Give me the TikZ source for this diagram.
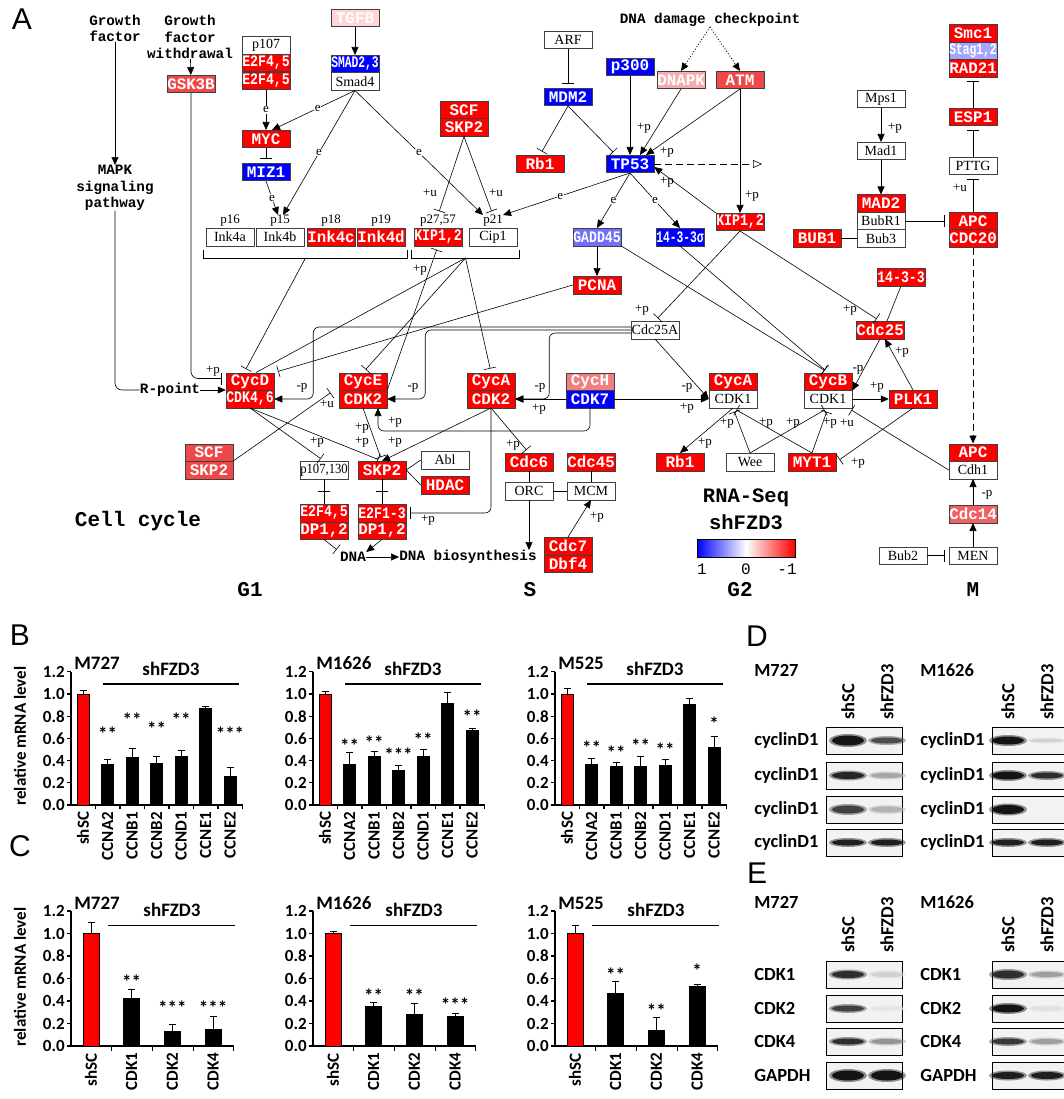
\documentclass[tikz,border=0pt]{standalone}
\usepackage{fontspec}
\usepackage{graphicx}
\usetikzlibrary{arrows.meta,calc}

\setmainfont{Liberation Serif}
\newfontfamily\keggfont{Liberation Mono}
\newfontfamily\plotfont{Carlito}
\newfontfamily\panelfont{Liberation Sans}

\definecolor{kred}{RGB}{255,0,0}
\definecolor{kblue}{RGB}{0,0,255}
\definecolor{kltred}{RGB}{238,72,72}
\definecolor{kpale}{RGB}{255,214,214}
\definecolor{kpink}{RGB}{246,172,172}
\definecolor{kcych}{RGB}{240,128,128}
\definecolor{kcdc}{RGB}{240,98,98}
\definecolor{kltblue}{RGB}{112,112,250}
\definecolor{klav}{RGB}{165,165,255}

% squeeze long gene names into the box
\newsavebox\kbox
\newcommand\kfit[1]{\sbox\kbox{#1}%
  \ifdim\wd\kbox>47.5pt\resizebox{47.5pt}{\height}{\usebox\kbox}\else\usebox\kbox\fi}

\tikzset{
  kegg/.style={draw=black!75, line width=0.5pt, minimum width=48pt,
    minimum height=17.5pt, inner sep=0pt, text=white,
    font=\keggfont\bfseries\fontsize{16}{16}\selectfont},
  kwhite/.style={kegg, fill=white, text=black, font=\fontsize{14}{14}\selectfont},
  ktext/.style={font=\keggfont\bfseries\fontsize{14.3}{16.5}\selectfont,
    align=center, inner sep=0pt},
  lab/.style={font=\fontsize{13}{13}\selectfont, inner sep=0pt},
  elab/.style={lab, fill=white, inner sep=0.6pt},
  act/.style={-{Triangle[length=8pt,width=7pt]}},
  inh/.style={-{Bar[width=12pt]}, shorten >=4pt},
  tick/.style={draw, minimum width=12pt, minimum height=0pt, inner sep=0pt},
  panel/.style={font=\panelfont\fontsize{30}{30}\selectfont, inner sep=0pt},
  plot/.style={font=\plotfont\bfseries\fontsize{17}{17}\selectfont, inner sep=0pt},
  plotbig/.style={font=\plotfont\bfseries\fontsize{19}{19}\selectfont, inner sep=0pt},
  stars/.style={font=\plotfont\bfseries\fontsize{19}{19}\selectfont, inner sep=0pt},
  blot/.style={font=\plotfont\bfseries\fontsize{18.5}{18.5}\selectfont, inner sep=0pt}
}

\begin{document}
\begin{tikzpicture}[x=1pt, y=-1pt, line width=0.6pt]
  \useasboundingbox (0,0) rectangle (1064,1099);
  \fill[white] (0,0) rectangle (1064,1099);

  % ---------------- A: cell cycle map ----------------
  \node[panel] (panA) at (22,19) {A};
  \node[ktext] (gf) at (115,28.5) {Growth\\factor};
  \node[ktext] (gfw) at (190,37) {Growth\\factor\\withdrawal};
  \node[ktext] (mapk) at (115,188) {MAPK\\signaling\\pathway};
  \node[ktext] (rpoint) at (170,390) {R-point};
  \node[ktext] (dmg) at (710,20) {DNA damage checkpoint};
  \node[ktext] (dna) at (353,557) {DNA};
  \node[ktext] (dnab) at (468,557) {DNA biosynthesis};
  \node[ktext, font=\keggfont\bfseries\fontsize{21}{21}\selectfont] (cellcyc) at (138,521) {Cell cycle};
  \foreach \n/\x/\tx in {phG1/250/G1, phS/530/S, phG2/740/G2, phM/973/M}
    \node[ktext, font=\keggfont\bfseries\fontsize{21}{21}\selectfont] (\n) at (\x,590) {\tx};

  % coloured genes
  \foreach \n/\x/\y/\fc/\tx in {
    gsk/191/84/kltred/GSK3B,
    e2fa/266/63/kred/{E2F4,5}, e2fb/266/81/kred/{E2F4,5},
    myc/266/139/kred/MYC, miz/266/172/kblue/MIZ1,
    tgfb/355/18/kpale/TGFB, smad/355/64/kblue/{SMAD2,3},
    ink4c/331/237/kred/Ink4c, ink4d/381/237/kred/Ink4d,
    kip/438/237/kred/{KIP1,2},
    scfa/464/110/kred/SCF, skpa/464/127.5/kred/SKP2,
    mdm/568/97/kblue/MDM2, rba/540/164/kred/Rb1,
    p300/630/67/kblue/p300, tp53/630/164/kblue/TP53,
    dnapk/681/80/kpink/DNAPK, atm/740/80/kltred/ATM,
    kipb/740/222/kred/{KIP1,2},
    gadd/597/237/kltblue/GADD45, sigma/680/237/kblue/14-3-3σ,
    pcna/597/285/kred/PCNA,
    mad2/881/203.5/kred/MAD2, bub1/817/238.5/kred/BUB1,
    smc/973/33.5/kred/Smc1, stag/973/51/klav/{Stag1,2}, rad/973/68.5/kred/RAD21,
    esp/973/117/kred/ESP1, apc/973/221/kred/APC, cdc20/973/238.5/kred/CDC20,
    f1433/901/277/kred/14-3-3, cdc25/880/330/kred/Cdc25,
    cycd/250/381.5/kred/CycD, cdk46/250/399/kred/{CDK4,6},
    cyce/363/381.5/kred/CycE, cdk2e/363/399/kred/CDK2,
    cyca/491/381.5/kred/CycA, cdk2a/491/399/kred/CDK2,
    cych/590/381.5/kcych/CycH, cdk7/590/399/kblue/CDK7,
    cycag/733/381.5/kred/CycA, cycb/828/381.5/kred/CycB,
    plk/913/399/kred/PLK1,
    scfb/209/452.5/kltred/SCF, skpb/209/470/kltred/SKP2,
    skpc/382/470/kred/SKP2, hdac/445/485/kred/HDAC,
    e2fc/324/513/kred/{E2F4,5}, dpa/324/530.5/kred/{DP1,2},
    e2fd/382/513/kred/E2F1-3, dpb/382/530.5/kred/{DP1,2},
    cdc6/529/462/kred/Cdc6, cdc45/591/462/kred/Cdc45,
    cdc7/568/546/kred/Cdc7, dbf4/568/563.5/kred/Dbf4,
    rbb/680/462/kred/Rb1, myt/812/462/kred/MYT1,
    apcb/973/452.5/kred/APC, cdc14/973/514/kcdc/Cdc14}
    \node[kegg, fill=\fc] (\n) at (\x,\y) {\kfit{\tx}};

  % white genes
  \foreach \n/\x/\y/\tx in {
    p107/266/45.5/p107, smad4/355/81.5/Smad4,
    ink4a/230/237/Ink4a, ink4b/280/237/Ink4b, cip/493/237/Cip1,
    arf/568/40/ARF, mps/881/99/Mps1, mad1/881/151/Mad1,
    bubr/881/221/BubR1, bub3/881/238.5/Bub3, pttg/973/166/PTTG,
    cdc25a/655/330/Cdc25A, cdk1a/733/399/CDK1, cdk1b/828/399/CDK1,
    p107b/324/470/{p107,130}, abl/445/460/Abl, orc/529/491/ORC,
    mcm/591/491/MCM, wee/750/462/Wee, cdh1/973/470/Cdh1,
    men/973/555.5/MEN, bub2/903/555.5/Bub2}
    \node[kwhite] (\n) at (\x,\y) {\kfit{\tx}};

  \foreach \n/\x/\tx in {lp16/230/p16, lp15/280/p15, lp18/331/p18, lp19/381/p19,
    lp2757/438/{p27,57}, lp21/493/p21}
    \node[lab] (\n) at (\x,221) {\tx};

  % brackets under the CKIs
  \draw ([shift={(-2,4)}]ink4a.south west) -- ++(0,8) -| ([shift={(2,4)}]ink4d.south east);
  \draw ([shift={(-2,4)}]kip.south west) -- ++(0,8) -| ([shift={(2,4)}]cip.south east);
  \coordinate (brA) at ($(ink4a.south west)!.5!(ink4d.south east)+(0,12)$);
  \coordinate (brB) at ($(kip.south west)!.5!(cip.south east)+(0,12)$);
  \coordinate (tpout) at (762,164);

  % growth factor
  \draw[act] (gf) -- (mapk);
  \draw[act] (gfw) -- (gsk);
  \draw[rounded corners=7pt] (mapk.south) |- (rpoint.west);
  \draw[act] (rpoint.east) -- (rpoint.east -| cdk46.north west);
  \draw[inh, rounded corners=7pt] (gsk.south) |- ([yshift=3pt]cycd.west);

  % TGFB / MYC
  \draw[act] (tgfb) -- (smad);
  \draw[act] (e2fb) -- node[elab] (e1) {e} (myc);
  \draw[act] (smad4.south) -- node[elab, pos=.45] (e2) {e} ($(myc.north)+(6,0)$);
  \draw[inh] (myc) -- (miz);
  \draw[act] (miz.south) -- node[elab] (e3) {e} ($(lp15.north)+(-2,0)$);
  \draw[act] (smad4.south) -- node[elab] (e4) {e} ($(lp15.north)+(3,0)$);
  \draw[act] (smad4.south) -- node[elab, pos=.5] (e5) {e} (lp21.north west);
  \draw[act] (tp53.south) -- node[elab, pos=.55] (e6) {e} (lp21.north east);
  \draw[inh] (skpa.south) -- (lp2757.north);
  \draw[inh] (skpa.south) -- (lp21.north);

  % p53 branch
  \draw[inh] (arf) -- (mdm);
  \draw[inh] (mdm.south) -- (rba.north);
  \draw[inh] (mdm.south) -- ($(tp53.north)+(-14,0)$);
  \draw[act] (p300) -- (tp53);
  \draw[act] (dnapk.south) -- ($(tp53.north)+(10,0)$);
  \draw[act] (atm.south) -- ($(tp53.north)+(16,0)$);
  \draw[act] (atm) -- (kipb);
  \draw[act] (kipb.north west) -- ([yshift=-3pt]tp53.east);
  \draw[dash pattern=on 7pt off 4pt, -{Triangle[open,length=9pt,width=8pt]}] (tp53.east) -- (tpout);
  \draw[dotted, line width=0.9pt, act] (dmg.south) -- (dnapk.north);
  \draw[dotted, line width=0.9pt, act] (dmg.south) -- (atm.north);
  \draw[act] (tp53.south) -- node[elab] (e7) {e} (gadd.north);
  \draw[act] (tp53.south) -- node[elab] (e8) {e} (sigma.north);
  \draw[act] (gadd) -- (pcna);

  % spindle checkpoint
  \draw[act] (mps) -- (mad1);
  \draw[act] (mad1) -- (mad2);
  \draw (bub1) -- (bub3);
  \draw[inh] (bubr.east) -- (bubr.east -| apc.west);
  \draw[inh] (esp) -- (rad);
  \draw[inh] (pttg) -- (esp);
  \draw[inh] (apc) -- (pttg);
  \draw[dash pattern=on 7pt off 4pt, act] (cdc20) -- (apcb);

  % CKIs onto the cyclins
  \draw[inh] (brA) -- ($(cycd.north)+(-6,0)$);
  \draw (brB) -- ($(cycd.north)+(6,0)$);
  \draw[inh] (brB) -- (cyce.north);
  \draw[inh] (brB) -- (cyca.north);
  \draw[inh] (cdk2e.north east) -- (kip.south);
  \draw[inh] (pcna.west) -- (cycd.north east);

  % Cdc25A
  \draw[act, rounded corners=6pt] ([yshift=3pt]cdc25a.west) -| ($(cdk46.east)+(39,0)$) -- (cdk46.east);
  \draw[act, rounded corners=6pt] (cdc25a.west) -| ($(cdk2e.east)+(38,0)$) -- (cdk2e.east);
  \draw[act, rounded corners=6pt] ([yshift=-3pt]cdc25a.west) -| ($(cdk2a.east)+(34,0)$) -- (cdk2a.east);
  \draw[inh] (kipb.south) -- (cdc25a.north);
  \draw[inh] (kipb.south) -- (cdc25.north);
  \draw[act] (cdc25a.south) -- (cdk1a.west);

  % CAK
  \draw[act] (cdk7.east) -- (cdk1a.west);
  \draw[act] (cdk7.west) -- (cdk2a.east);
  \draw[act, rounded corners=6pt] (cdk7.south) |- ($(cdk2e.south)+(15,23)$) -- ($(cdk2e.south)+(15,0)$);

  % G2/M
  \draw[inh] (gadd.south east) -- (cycb.north);
  \draw[inh] (sigma.south) -- (cycb.north);
  \draw (f1433.south) -- ($(cdc25.north)+(7,0)$);
  \draw[act] (cdc25.south) -- (cycb.south east);
  \draw[act] (cdk1b) -- (plk);
  \draw[act] (plk.north) -- ($(cdc25.south)+(5,0)$);
  \draw[inh] (plk.south) -- (myt.east);
  \draw[act] (cdk1a.south) -- (rbb.north);
  \foreach \src in {wee,myt} {
    \draw[inh] (\src.north) -- (cdk1a.south);
    \draw[inh] (\src.north) -- (cdk1b.south);
  }
  \draw[inh] (cdh1.west) -- ($(cdk1b.south)+(20,0)$);
  \draw[act] (cdc14) -- (cdh1);
  \draw[act] (men) -- (cdc14);
  \draw[inh] (bub2) -- (men);

  % G1/S
  \draw[inh] (skpb.north east) -- ([xshift=-5pt]cyce.south west);
  \draw[inh] (cdk46.south) -- (p107b.north);
  \draw[inh] (cdk46.south) -- (skpc.north);
  \draw[inh] (cdk2e.south) -- (skpc.north);
  \draw[act] (cdk2a.south) -- (skpc.north);
  \draw (p107b) -- node[tick] (tk1) {} (e2fc);
  \draw (skpc) -- node[tick] (tk2) {} (e2fd);
  \draw (skpc.east) -- (abl.west);
  \draw (skpc.east) -- (hdac.west);
  \draw[inh] (dpa.south) -- (dna.north west);
  \draw[act] (dpb.south) -- (dna.north east);
  \draw[act] (dna) -- (dnab);
  \draw[inh, rounded corners=6pt] (cdk2a.south) |- (e2fd.east);
  \draw[inh] (cdk2a.south) -- (cdc6.north);
  \draw (cdc6) -- (orc);
  \draw (cdc45) -- (mcm);
  \draw (orc) -- (mcm);
  \draw[act] (orc.south) -- (orc.south |- dnab.north);
  \draw[act] (cdc7.north) -- (mcm.south);

  % edge labels
  \foreach \x/\y/\tx [count=\i] in {213/371/+p, 302/388/-p, 413/388/-p, 540/388/-p,
    327/404/+u, 317/442/+p, 362/428/+p, 362/442/+p, 395/422/+p, 395/442/+p,
    428/520/+p, 513/445/+p, 597/517/+p, 539/409/+p, 687/388/-p, 687/408/+p,
    642/310/+p, 850/310/+p, 858/370/-p, 877/387/+p, 902/352/+p, 705/443/+p,
    727/423/+p, 766/423/+p, 793/423/+p, 830/423/+p, 847/423/+u, 858/463/+p,
    987/495/-p, 420/270/+p, 430/193/+u, 496/193/+u, 644/128/+p, 667/152/+p,
    667/182/+p, 752/196/+p, 895/128/+p, 960/188/+u}
    \node[lab] (pl\i) at (\x,\y) {\tx};

  % legend
  \node[ktext, font=\keggfont\bfseries\fontsize{20.5}{20.5}\selectfont] (legA) at (746,498) {RNA-Seq};
  \node[ktext, font=\keggfont\bfseries\fontsize{20.5}{20.5}\selectfont] (legB) at (746,522) {shFZD3};
  \shade[left color=kblue, right color=kred, middle color=white] (697,539) rectangle (795,557);
  \draw (697,539) rectangle (795,557);
  \foreach \n/\x/\tx in {leg1/702/1, leg0/746/0, legm/787/-1}
    \node[font=\keggfont\fontsize{16}{16}\selectfont, inner sep=0pt] (\n) at (\x,569) {\tx};

  % ---------------- B: cyclin mRNA ----------------
  \node[panel] (panB) at (20,635) {B};
  \node[plot, rotate=90] (ylabB) at (20,736) {relative mRNA level};
  \foreach \cx/\cn/\vals in {
    71/M727/{1.00/0.03/{}/0, 0.37/0.04/**/0.64, 0.43/0.08/**/0.77, 0.38/0.06/**/0.69, 0.44/0.05/**/0.77, 0.87/0.015/{}/0, 0.26/0.08/***/0.64},
    313/M1626/{1.00/0.02/{}/0, 0.37/0.10/**/0.53, 0.44/0.04/**/0.56, 0.31/0.05/***/0.45, 0.44/0.06/**/0.59, 0.92/0.09/{}/0, 0.67/0.02/**/0.80},
    555/M525/{1.00/0.05/{}/0, 0.37/0.05/**/0.52, 0.35/0.03/**/0.47, 0.35/0.09/**/0.53, 0.36/0.05/**/0.50, 0.91/0.05/{}/0, 0.52/0.10/*/0.73}}
  {
    \begin{scope}[shift={(\cx,805)}, yscale=-111]
      \draw[line width=1.2pt] (0,1.2) -- (0,0) -- (171.5,0);
      \foreach \tv in {0.0,0.2,0.4,0.6,0.8,1.0,1.2} {
        \draw[line width=1.2pt] (0,\tv) -- (-4,\tv);
        \node[plot, anchor=east] (by\cn\tv) at (-6,\tv) {\tv};
      }
      \foreach \k in {1,...,7}
        \draw[line width=1.2pt] ({24.5*\k},0) -- ({24.5*\k},-0.04);
      \foreach \val/\err/\st/\sy [count=\i] in \vals {
        \pgfmathsetmacro\bx{12+24.5*(\i-1)}
        \ifnum\i=1 \def\bfill{red}\else\def\bfill{black}\fi
        \draw[fill=\bfill] (\bx-6,0) rectangle (\bx+6,\val);
        \draw[line width=0.9pt] (\bx,\val) -- (\bx,\val+\err) ++(-3.5,0) -- ++(7,0);
        \node[stars] (bs\cn\i) at (\bx,\sy) {\st};
      }
      \foreach \lb [count=\i] in {shSC,CCNA2,CCNB1,CCNB2,CCND1,CCNE1,CCNE2}
        \node[plot, rotate=90, anchor=east] (bx\cn\i) at ({12+24.5*(\i-1)},-0.06) {\lb};
      \draw[line width=1.6pt] (32,1.09) -- (168,1.09);
      \node[plotbig] (bsh\cn) at (100,1.23) {shFZD3};
      \node[plotbig, anchor=west] (bn\cn) at (3,1.28) {\cn};
    \end{scope}
  }

  % ---------------- C: CDK mRNA ----------------
  \node[panel] (panC) at (20,846) {C};
  \node[plot, rotate=90] (ylabC) at (20,977) {relative mRNA level};
  \foreach \cx/\cn/\vals in {
    71/M727/{1.00/0.10/{}/0, 0.42/0.08/**/0.57, 0.13/0.06/***/0.34, 0.15/0.11/***/0.34},
    313/M1626/{1.00/0.02/{}/0, 0.35/0.04/**/0.45, 0.28/0.10/**/0.45, 0.26/0.03/***/0.37},
    555/M525/{1.00/0.07/{}/0, 0.47/0.10/**/0.63, 0.14/0.11/**/0.31, 0.53/0.02/*/0.67}}
  {
    \begin{scope}[shift={(\cx,1046)}, yscale=-112.5]
      \draw[line width=1.2pt] (0,1.2) -- (0,0) -- (163,0);
      \foreach \tv in {0.0,0.2,0.4,0.6,0.8,1.0,1.2} {
        \draw[line width=1.2pt] (0,\tv) -- (-4,\tv);
        \node[plot, anchor=east] (cy\cn\tv) at (-6,\tv) {\tv};
      }
      \foreach \k in {1,...,4}
        \draw[line width=1.2pt] ({40.7*\k},0) -- ({40.7*\k},-0.04);
      \foreach \val/\err/\st/\sy [count=\i] in \vals {
        \pgfmathsetmacro\bx{20+40.7*(\i-1)}
        \ifnum\i=1 \def\bfill{red}\else\def\bfill{black}\fi
        \draw[fill=\bfill] (\bx-8,0) rectangle (\bx+8,\val);
        \draw[line width=0.9pt] (\bx,\val) -- (\bx,\val+\err) ++(-3.5,0) -- ++(7,0);
        \node[stars] (cs\cn\i) at (\bx,\sy) {\st};
      }
      \foreach \lb [count=\i] in {shSC,CDK1,CDK2,CDK4}
        \node[plot, rotate=90, anchor=east] (cx\cn\i) at ({20+40.7*(\i-1)},-0.06) {\lb};
      \draw[line width=1.6pt] (37,1.07) -- (164,1.07);
      \node[plotbig] (csh\cn) at (101,1.21) {shFZD3};
      \node[plotbig, anchor=west] (cn\cn) at (3,1.27) {\cn};
    \end{scope}
  }

  % ---------------- D, E: western blots ----------------
  \node[panel] (panD) at (757,636) {D};
  \node[panel] (panE) at (757,873) {E};
  \foreach \px/\cn in {754/M727, 920/M1626} {
    \node[blot, anchor=west] (dn\cn) at (\px,670) {\cn};
    \node[blot, anchor=west] (en\cn) at (\px,902) {\cn};
  }
  \foreach \lx/\ln [count=\i] in {848/shSC, 887/shFZD3, 1008/shSC, 1047/shFZD3} {
    \node[blot, rotate=90, anchor=west] (dl\i) at (\lx,720) {\ln};
    \node[blot, rotate=90, anchor=west] (el\i) at (\lx,953) {\ln};
  }
  \foreach \bx in {826,992}
    \foreach \ry in {727,762,796,829,961,995,1028,1062}
      \draw[fill=black!5, line width=0.9pt] (\bx,\ry) rectangle ++(76,27);
  \foreach \lx [count=\j] in {754,920}
    \foreach \ry/\rl [count=\i] in {740.5/cyclinD1, 775.5/cyclinD1, 809.5/cyclinD1, 842.5/cyclinD1,
      974.5/CDK1, 1008.5/CDK2, 1041.5/CDK4, 1075.5/GAPDH}
      \node[blot, anchor=west] (rl\j-\i) at (\lx,\ry) {\rl};
  % bands: x / y / darkness / half height
  \foreach \x/\y/\kk/\bh in {
    848/740.5/92/5, 887/740.5/70/3,
    848/775.5/85/3.5, 887/775.5/35/2.5,
    848/809.5/75/4, 887/809.5/30/3,
    848/842.5/88/3, 887/842.5/88/3,
    1008/740.5/92/4, 1047/740.5/18/1.5,
    1008/775.5/92/4, 1047/775.5/82/3,
    1008/809.5/92/4.5,
    1008/842.5/88/3, 1047/842.5/88/3,
    848/974.5/82/3.5, 887/974.5/18/2.5,
    848/1008.5/75/3, 887/1008.5/10/2,
    848/1041.5/82/3, 887/1041.5/42/2.5,
    848/1075.5/92/5, 887/1075.5/92/5,
    1008/974.5/82/4, 1047/974.5/38/2.5,
    1008/1008.5/92/4, 1047/1008.5/12/2,
    1008/1041.5/78/3, 1047/1041.5/38/2.5,
    1008/1075.5/88/3.5, 1047/1075.5/88/3.5}
  {
    \fill[black!\kk, opacity=0.45] (\x,\y) ellipse (19 and \bh+1.5);
    \fill[black!\kk] (\x,\y) ellipse (16 and \bh);
  }
\end{tikzpicture}
\end{document}
